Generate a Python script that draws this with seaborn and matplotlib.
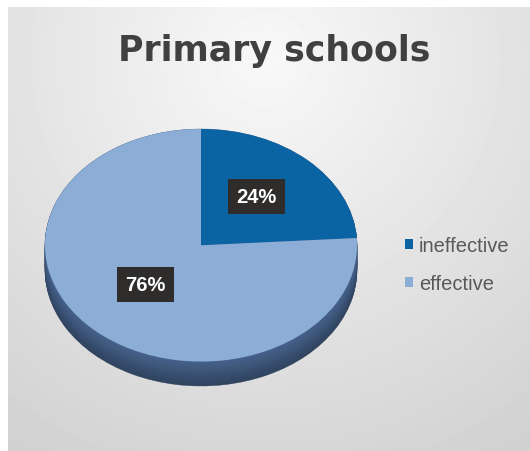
import numpy as np
import matplotlib
matplotlib.use("Agg")
import matplotlib.pyplot as plt
import matplotlib.transforms as mtransforms
import seaborn as sns
from matplotlib.colors import to_rgb

categories = ["ineffective", "effective"]
shares = [24, 76]
slice_colors = ["#0a64a4", "#8cadd5"]
title_text = "Primary schools"

sns.set_theme(style="white")
plt.rcParams['font.family'] = ['Liberation Sans', 'DejaVu Sans']

W, H = 530, 452
fig = plt.figure(figsize=(W / 100, H / 100), dpi=100, facecolor='white')

# background gradient panel
bg = fig.add_axes([8 / W, 0, (W - 8) / W, (H - 8) / H])
yy, xx = np.mgrid[8:H, 8:W]
dist = np.hypot(xx - 265, yy - 60)
val = np.clip(248 - 0.085 * dist, 200, 250) / 255
bg.imshow(val, cmap='gray', vmin=0, vmax=1, aspect='auto',
          extent=(0, 1, 0, 1), origin='upper', interpolation='bilinear')
bg.set_axis_off()

# pie axes (tilted via non-equal aspect)
ax = fig.add_axes([45 / W, (H - 387) / H, 312 / W, 257 / H])
depth = 0.21
side_top = np.array(to_rgb("#46628c"))
side_bot = np.array(to_rgb("#30445f"))
n = 30
for d in np.linspace(depth, 0.0, n):
    t = d / depth
    c = tuple(side_top * (1 - t) + side_bot * t)
    ax.pie(shares, startangle=90, counterclock=False, center=(0, -d),
           colors=[c, c], wedgeprops=dict(linewidth=0.3, edgecolor=c))

wedges, texts, autotexts = ax.pie(
    shares, startangle=90, counterclock=False, colors=slice_colors,
    autopct=lambda p: f"{p:.0f}%", pctdistance=0.52,
    wedgeprops=dict(linewidth=0),
    textprops=dict(color='white', fontsize=14.5, fontweight='bold'))
shift = mtransforms.ScaledTranslation(0, 5 / 100, fig.dpi_scale_trans)
for t in autotexts:
    t.set_bbox(dict(boxstyle='square,pad=0.4', facecolor='#2f2c2c', edgecolor='none'))
    t.set_transform(t.get_transform() + shift)
ax.set_aspect('auto')
ax.set_xlim(-1, 1)
ax.set_ylim(-1 - depth, 1)
ax.set_axis_off()

# title
fig.text(274 / W, 1 - 61 / H, title_text, ha='center', va='baseline',
         fontsize=25, fontweight='bold', color='#404040', family=['DejaVu Sans'])

# legend
leg = fig.legend(wedges, categories, loc='center left',
                 bbox_to_anchor=(405 / W, 1 - 265.5 / H), frameon=False,
                 fontsize=14.5, handlelength=0.4, handleheight=0.4,
                 handletextpad=0.3, labelspacing=0.95, borderpad=0, borderaxespad=0)
for t in leg.get_texts():
    t.set_color('#595959')

fig.savefig("out.png", dpi=100, facecolor=fig.get_facecolor())
